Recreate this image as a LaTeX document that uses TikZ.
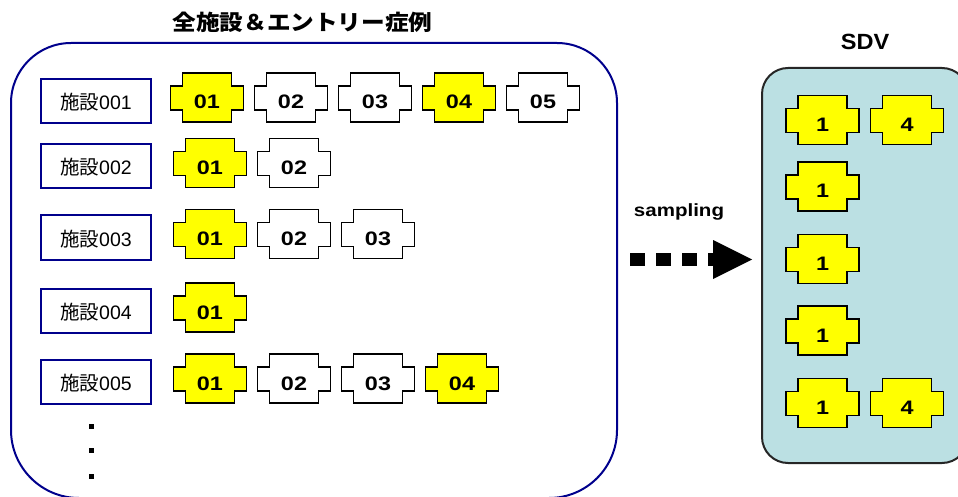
\documentclass[tikz,border=0pt]{standalone}
\usepackage{fontspec}
\usepackage{graphicx}
\setmainfont{Liberation Sans}
\newfontfamily\cjk{Noto Sans CJK JP}
\definecolor{navyline}{RGB}{0,0,140}
\definecolor{sdvfill}{RGB}{187,224,227}
\definecolor{tagyellow}{RGB}{255,255,0}
\tikzset{
  framebig/.style={draw=navyline, line width=2},
  framesdv/.style={draw=black!85, line width=2, fill=sdvfill},
  labelbox/.style={draw=navyline, line width=2, fill=white, minimum width=110, minimum height=44,
    inner sep=0, text height=17, text depth=0, font=\fontsize{19.5}{20}\selectfont},
  tagline/.style={draw=black, line width=1.8, line join=miter},
  tagtext/.style={inner sep=0, text height=22, text depth=0, font=\fontsize{19.5}{19.5}\bfseries\selectfont},
  headtext/.style={inner sep=0, anchor=base},
  dotsq/.style={fill=black},
}
\newcommand\tagat[5]{%
  \draw[tagline, fill=#5] (#2-24.5,#3-25) -- ++(49,0) -- ++(0,13) -- ++(12,0) -- ++(0,24)
    -- ++(-12,0) -- ++(0,12) -- ++(-49,0) -- ++(0,-12) -- ++(-12,0) -- ++(0,-24) -- ++(12,0) -- cycle;
  \node[tagtext] (#1) at (#2,#3) {\scalebox{1.2}[1]{#4}};
}
\begin{document}
\begin{tikzpicture}[x=1pt,y=-1pt]
\useasboundingbox (0,0) rectangle (958,497);
% big frame
\draw[framebig] (11,300) [rounded corners=60] -- (11,43) -- (617,43) -- (617,300)
  [rounded corners=68] -- (617,498) -- (11,498) -- cycle;
\node[headtext] (title) at (302.5,30.5) {\scalebox{1.1}[1]{\cjk\bfseries\fontsize{21.5}{22}\selectfont 全施設＆エントリー症例}};
% SDV frame
\draw[framesdv, rounded corners=26] (762,68) rectangle (968,463);
\node[headtext] (sdv) at (865,50) {\scalebox{1.07}[1]{\fontsize{22}{22}\bfseries\selectfont SDV}};
% facility labels
\node[labelbox] (f1) at (96,101) {{\cjk 施設}001};
\node[labelbox] (f2) at (96,166.5) {{\cjk 施設}002};
\node[labelbox] (f3) at (96,237.5) {{\cjk 施設}003};
\node[labelbox] (f4) at (96,311) {{\cjk 施設}004};
\node[labelbox] (f5) at (96,382) {{\cjk 施設}005};
% row 1
\tagat{r1a}{207}{98}{01}{tagyellow}
\tagat{r1b}{291}{98}{02}{white}
\tagat{r1c}{375}{98}{03}{white}
\tagat{r1d}{459}{98}{04}{tagyellow}
\tagat{r1e}{543}{98}{05}{white}
% row 2
\tagat{r2a}{210}{163.5}{01}{tagyellow}
\tagat{r2b}{294}{163.5}{02}{white}
% row 3
\tagat{r3a}{210}{234.5}{01}{tagyellow}
\tagat{r3b}{294}{234.5}{02}{white}
\tagat{r3c}{378}{234.5}{03}{white}
% row 4
\tagat{r4a}{210}{308}{01}{tagyellow}
% row 5
\tagat{r5a}{210}{379}{01}{tagyellow}
\tagat{r5b}{294}{379}{02}{white}
\tagat{r5c}{378}{379}{03}{white}
\tagat{r5d}{462}{379}{04}{tagyellow}
% dots
\fill[dotsq] (89,424) rectangle ++(4.5,4.5);
\fill[dotsq] (89,448) rectangle ++(4.5,4.5);
\fill[dotsq] (89,474) rectangle ++(4.5,4.5);
% SDV tags
\tagat{s1a}{822.5}{120.5}{1}{tagyellow}
\tagat{s1b}{907}{120.5}{4}{tagyellow}
\tagat{s2a}{822.5}{187}{1}{tagyellow}
\tagat{s3a}{822.5}{259.5}{1}{tagyellow}
\tagat{s4a}{822.5}{331}{1}{tagyellow}
\tagat{s5a}{822.5}{403.5}{1}{tagyellow}
\tagat{s5b}{907}{403.5}{4}{tagyellow}
% arrow
\node[headtext] (samp) at (679,216.5) {\scalebox{1.16}[1]{\fontsize{17.7}{18}\bfseries\selectfont sampling}};
\coordinate (as) at (630,259.5);
\coordinate (ae) at (713,259.5);
\draw[line width=13, dash pattern=on 15 off 11] (as) -- (ae);
\fill (ae) ++(0,-19.5) -- ++(39,19.5) -- ++(-39,19.5) -- cycle;
\end{tikzpicture}
\end{document}
